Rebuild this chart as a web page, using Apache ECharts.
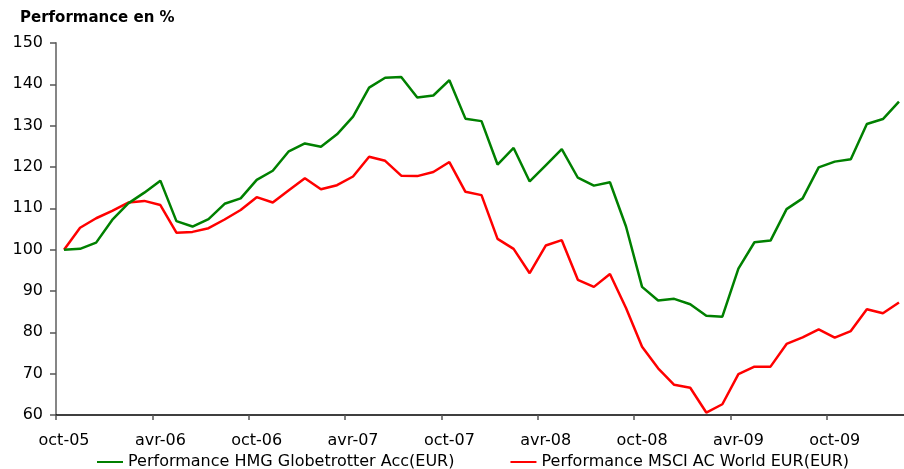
<!DOCTYPE html>
<html>
<head>
<meta charset="utf-8">
<script src="https://cdn.jsdelivr.net/npm/echarts@6/dist/echarts.min.js"></script>
<style>
  html, body { margin: 0; padding: 0; background: #fff; }
  #chart { width: 904px; height: 469px; }
</style>
</head>
<body>
<div id="chart"></div>
<script>
const months = [
  'oct-05','nov-05','déc-05','janv-06','févr-06','mars-06','avr-06','mai-06','juin-06','juil-06','août-06','sept-06',
  'oct-06','nov-06','déc-06','janv-07','févr-07','mars-07','avr-07','mai-07','juin-07','juil-07','août-07','sept-07',
  'oct-07','nov-07','déc-07','janv-08','févr-08','mars-08','avr-08','mai-08','juin-08','juil-08','août-08','sept-08',
  'oct-08','nov-08','déc-08','janv-09','févr-09','mars-09','avr-09','mai-09','juin-09','juil-09','août-09','sept-09',
  'oct-09','nov-09','déc-09','janv-10','févr-10'
];
const tickLabels = ['oct-05','avr-06','oct-06','avr-07','oct-07','avr-08','oct-08','avr-09','oct-09'];
const yTicks = [60, 70, 80, 90, 100, 110, 120, 130, 140, 150];

const seriesNames = ['Performance HMG Globetrotter Acc(EUR)', 'Performance MSCI AC World EUR(EUR)'];

const hmg = [100, 100.2, 101.7, 107.2, 111.2, 113.8, 116.7, 106.9, 105.6, 107.4, 111.1, 112.4,
  116.9, 119.1, 123.8, 125.7, 124.9, 127.9, 132.2, 139.2, 141.6, 141.8, 136.8, 137.3,
  141.0, 131.7, 131.1, 120.6, 124.6, 116.5, 120.4, 124.3, 117.4, 115.5, 116.3, 105.6,
  91.0, 87.7, 88.1, 86.8, 84.0, 83.8, 95.4, 101.8, 102.2, 109.8, 112.4, 119.9,
  121.3, 121.9, 130.4, 131.6, 135.8];

const msci = [100, 105.3, 107.6, 109.4, 111.4, 111.8, 110.8, 104.1, 104.3, 105.2, 107.3, 109.6,
  112.7, 111.4, 114.4, 117.3, 114.6, 115.6, 117.7, 122.5, 121.5, 117.9, 117.8, 118.8,
  121.2, 114.0, 113.2, 102.6, 100.2, 94.3, 101.0, 102.3, 92.7, 91.0, 94.1, 85.9,
  76.5, 71.3, 67.3, 66.6, 60.6, 62.6, 69.9, 71.7, 71.7, 77.2, 78.8, 80.7,
  78.7, 80.3, 85.6, 84.6, 87.2];

const FONT = 'DejaVu Sans';
const chart = echarts.init(document.getElementById('chart'), null, { renderer: 'canvas' });
chart.setOption({
  animation: false,
  backgroundColor: '#ffffff',
  title: {
    text: 'Performance en %',
    left: 15, top: 6,
    textStyle: { fontFamily: FONT, fontSize: 15, fontWeight: 'bold', color: '#000' }
  },
  legend: {
    left: 92, top: 449,
    itemGap: 56,
    itemWidth: 26, itemHeight: 2,
    icon: 'rect',
    textStyle: { fontFamily: FONT, fontSize: 16, color: '#000' },
    data: seriesNames
  },
  grid: { left: 56, top: 43, width: 851, height: 372, outerBoundsMode: 'none', containLabel: false },
  xAxis: {
    type: 'category',
    data: months,
    boundaryGap: true,
    axisLine: { show: true, lineStyle: { color: '#000', width: 1.5 } },
    axisTick: { show: true, alignWithLabel: false, interval: 5, length: 5, lineStyle: { color: '#555', width: 1.5 } },
    splitLine: { show: false },
    axisLabel: {
      interval: 5,
      margin: 18,
      fontFamily: FONT, fontSize: 16, color: '#000',
      formatter: v => tickLabels.includes(v) ? v : ''
    }
  },
  yAxis: {
    type: 'value',
    min: yTicks[0], max: yTicks[yTicks.length - 1], interval: 10,
    axisLine: { show: true, lineStyle: { color: '#868686', width: 2 } },
    axisTick: { show: true, length: 6, lineStyle: { color: '#555', width: 1.5 } },
    splitLine: { show: false },
    axisLabel: { margin: 13, fontFamily: FONT, fontSize: 16, color: '#000' }
  },
  series: [
    {
      name: seriesNames[0], type: 'line', data: hmg,
      showSymbol: false, symbol: 'none',
      lineStyle: { color: '#008000', width: 2.5 }, itemStyle: { color: '#008000' }, z: 3
    },
    {
      name: seriesNames[1], type: 'line', data: msci,
      showSymbol: false, symbol: 'none',
      lineStyle: { color: '#ff0000', width: 2.5 }, itemStyle: { color: '#ff0000' }, z: 2
    }
  ]
});
</script>
</body>
</html>
